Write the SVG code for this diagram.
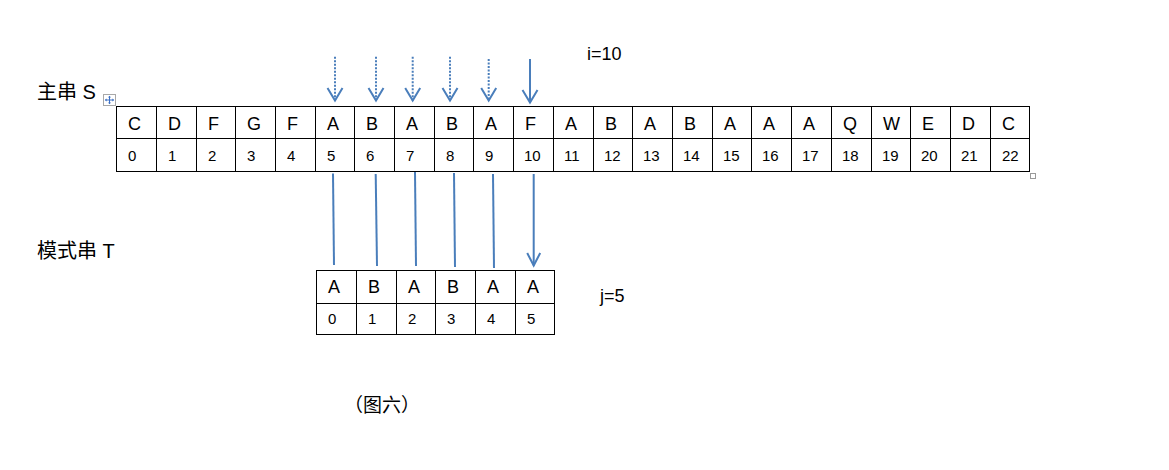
<svg xmlns="http://www.w3.org/2000/svg" width="1169" height="470" viewBox="0 0 1169 470">
<style>
.grid{stroke:#000;stroke-width:1;fill:none}
.ch{font-family:"Liberation Sans",Arial,sans-serif;font-size:18px;fill:#000}
.num{font-family:"Liberation Sans",Arial,sans-serif;font-size:15px;fill:#000}
.lbl{font-family:"Liberation Sans","Noto Sans CJK SC",sans-serif;font-size:20px;fill:#000}
.cap{font-family:"Noto Sans CJK SC",sans-serif;font-size:19px;fill:#000}
.var{font-family:"Liberation Sans",Arial,sans-serif;font-size:18px;fill:#000}
.conn{stroke:#4A7EBB;stroke-width:2;fill:none}
.dot{stroke-dasharray:2 1.5}
</style>
<defs>
<marker id="vh" markerUnits="userSpaceOnUse" viewBox="0 0 18 16" refX="9" refY="14" markerWidth="18" markerHeight="16" orient="0">
<path d="M1.5,1.5 L9,14 L16.5,1.5" fill="none" stroke="#4A7EBB" stroke-width="2"/>
</marker>
<marker id="vh2" markerUnits="userSpaceOnUse" viewBox="0 0 18 16" refX="9" refY="14" markerWidth="18" markerHeight="16" orient="0">
<path d="M2.5,1.5 L9,14 L15.5,1.5" fill="none" stroke="#4A7EBB" stroke-width="2"/>
</marker>
</defs>
<rect width="1169" height="470" fill="#fff"/>

<g id="label-S">
<text class="lbl" x="37" y="99">主串 S</text>
</g>
<g id="label-T">
<text class="lbl" x="37" y="257.5">模式串 T</text>
</g>
<g id="label-i">
<text class="var" x="587" y="59.5">i=10</text>
</g>
<g id="label-j">
<text class="var" x="600" y="302">j=5</text>
</g>
<g id="caption">
<text class="cap" x="344" y="412">（图六）</text>
</g>

<g id="move-handle">
<rect x="103.5" y="94.5" width="12" height="11" fill="#fff" stroke="#a8a8a8" stroke-width="1"/>
<path d="M109.5,96.5 V103.5 M105.5,100 H113.5" stroke="#3b6fc4" stroke-width="1"/>
<path d="M109.5,95.8 L108,97.6 H111 Z M109.5,104.2 L108,102.4 H111 Z M104.8,100 L106.6,98.5 V101.5 Z M114.2,100 L112.4,98.5 V101.5 Z" fill="#3b6fc4"/>
</g>
<g id="resize-handle">
<rect x="1030.5" y="173.5" width="5" height="5" fill="#fff" stroke="#9a9a9a" stroke-width="1"/>
</g>

<g id="main-string">
<rect class="grid" x="116.5" y="106.5" width="913" height="65"/>
<path class="grid" d="M116.5,138.5 H1029.5 M156.5,106.5 V171.5 M196.5,106.5 V171.5 M235.5,106.5 V171.5 M275.5,106.5 V171.5 M315.5,106.5 V171.5 M354.5,106.5 V171.5 M394.5,106.5 V171.5 M434.5,106.5 V171.5 M473.5,106.5 V171.5 M513.5,106.5 V171.5 M553.5,106.5 V171.5 M593.5,106.5 V171.5 M632.5,106.5 V171.5 M672.5,106.5 V171.5 M712.5,106.5 V171.5 M751.5,106.5 V171.5 M791.5,106.5 V171.5 M831.5,106.5 V171.5 M871.5,106.5 V171.5 M910.5,106.5 V171.5 M950.5,106.5 V171.5 M990.5,106.5 V171.5"/>
<g class="ch">
<text x="128" y="130">C</text><text x="168" y="130">D</text><text x="208" y="130">F</text><text x="247" y="130">G</text><text x="287" y="130">F</text>
<text x="327" y="130">A</text><text x="366" y="130">B</text><text x="406" y="130">A</text><text x="446" y="130">B</text><text x="485" y="130">A</text>
<text x="525" y="130">F</text><text x="565" y="130">A</text><text x="605" y="130">B</text><text x="644" y="130">A</text><text x="684" y="130">B</text>
<text x="724" y="130">A</text><text x="763" y="130">A</text><text x="803" y="130">A</text><text x="843" y="130">Q</text><text x="883" y="130">W</text>
<text x="922" y="130">E</text><text x="962" y="130">D</text><text x="1002" y="130">C</text>
</g>
<g class="num">
<text x="128" y="160.7">0</text><text x="168" y="160.7">1</text><text x="208" y="160.7">2</text><text x="247" y="160.7">3</text><text x="287" y="160.7">4</text>
<text x="327" y="160.7">5</text><text x="366" y="160.7">6</text><text x="406" y="160.7">7</text><text x="446" y="160.7">8</text><text x="485" y="160.7">9</text>
<text x="524" y="160.7">10</text><text x="564" y="160.7">11</text><text x="604" y="160.7">12</text><text x="643" y="160.7">13</text><text x="683" y="160.7">14</text>
<text x="723" y="160.7">15</text><text x="762" y="160.7">16</text><text x="802" y="160.7">17</text><text x="842" y="160.7">18</text><text x="882" y="160.7">19</text>
<text x="921" y="160.7">20</text><text x="961" y="160.7">21</text><text x="1002" y="160.7">22</text>
</g>
</g>

<g id="pattern-string">
<rect class="grid" x="316.5" y="270.5" width="238" height="64"/>
<path class="grid" d="M316.5,303.5 H554.5 M356.5,270.5 V334.5 M396.5,270.5 V334.5 M435.5,270.5 V334.5 M475.5,270.5 V334.5 M515.5,270.5 V334.5"/>
<g class="ch">
<text x="328" y="293.3">A</text><text x="368" y="293.3">B</text><text x="408" y="293.3">A</text><text x="447" y="293.3">B</text><text x="487" y="293.3">A</text><text x="527" y="293.3">A</text>
</g>
<g class="num">
<text x="328" y="324.3">0</text><text x="368" y="324.3">1</text><text x="408" y="324.3">2</text><text x="447" y="324.3">3</text><text x="487" y="324.3">4</text><text x="527" y="324.3">5</text>
</g>
</g>

<g id="connectors">
<line class="conn dot" x1="335" y1="56.7" x2="335" y2="100.5" marker-end="url(#vh)"/>
<line class="conn dot" x1="376" y1="56.7" x2="376" y2="100.5" marker-end="url(#vh)"/>
<line class="conn dot" x1="412.7" y1="56.7" x2="412.7" y2="100.5" marker-end="url(#vh)"/>
<line class="conn dot" x1="450" y1="56.7" x2="450" y2="100.5" marker-end="url(#vh)"/>
<line class="conn dot" x1="488.7" y1="59" x2="488.7" y2="100.5" marker-end="url(#vh)"/>
<line class="conn" x1="530" y1="59" x2="530" y2="102.5" marker-end="url(#vh)"/>
<line class="conn" x1="333" y1="173.5" x2="334" y2="265"/>
<line class="conn" x1="375.7" y1="174" x2="377" y2="266"/>
<line class="conn" x1="415" y1="172" x2="416" y2="266"/>
<line class="conn" x1="454" y1="173" x2="455" y2="267"/>
<line class="conn" x1="493" y1="174" x2="494" y2="268"/>
<line class="conn" x1="533.7" y1="174" x2="533.7" y2="265.5" marker-end="url(#vh2)"/>
</g>
</svg>
